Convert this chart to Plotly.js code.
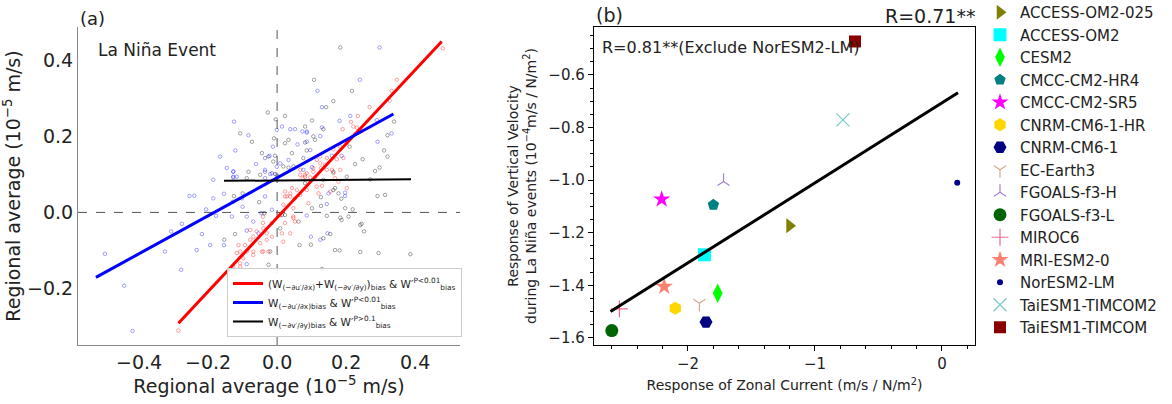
<!DOCTYPE html>
<html>
<head>
<meta charset="utf-8">
<script src="https://cdn.plot.ly/plotly-3.0.1.min.js"></script>
<style>html,body{margin:0;padding:0;background:#fff;}#chart{width:1172px;height:404px;}</style>
</head>
<body>
<div id="chart"></div>
<script>
// ---------- Panel (a) data ----------
const redX = [0.480,0.347,0.332,0.326,0.268,0.214,0.190,0.231,0.245,0.226,0.202,0.183,0.163,0.192,0.173,0.144,0.139,0.125,0.183,0.159,0.144,0.127,0.105,0.086,0.081,0.096,0.110,0.163,0.168,0.074,0.115,0.130,
0.234,0.221,0.115,0.125,0.105,0.067,0.081,0.043,0.057,0.023,0.038,0.202,0.154,0.178,0.086,
0.023,0.038,0.052,0.067,0.018,0.047,0.009,0.023,0.047,0.038,-0.015,-0.040,-0.030,-0.059,-0.069,-0.078,-0.030,-0.049,-0.093,-0.107,-0.117,-0.088,-0.069,-0.040,-0.025,-0.098,-0.127,-0.107,-0.122,-0.286,0.014,0.018,
-0.112,-0.041,-0.041,-0.015,-0.044,-0.069,-0.107,-0.078,0.028,0.091,0.120,0.047,0.052,0.067];
const redY = [0.432,0.349,0.320,0.294,0.277,0.238,0.219,0.223,0.214,0.206,0.182,0.173,0.166,0.143,0.140,0.143,0.125,0.129,0.112,0.112,0.112,0.116,0.107,0.103,0.094,0.092,0.092,0.103,0.090,0.090,0.068,0.070,
0.254,0.226,0.138,0.147,0.116,0.112,0.099,0.064,0.059,0.055,0.042,0.064,0.055,0.081,0.059,
0.042,0.050,0.037,0.046,0.020,0.011,-0.007,-0.028,-0.015,-0.055,-0.028,-0.042,-0.055,-0.050,-0.064,-0.046,-0.072,-0.081,-0.086,-0.103,-0.107,-0.103,-0.103,-0.103,-0.103,-0.121,-0.143,-0.143,-0.164,-0.311,-0.055,-0.077,
-0.086,-0.011,-0.028,-0.064,-0.103,-0.112,-0.134,-0.072,0.042,0.024,0.050,-0.011,-0.024,0.099];

const blueX = [-0.125,-0.083,-0.121,-0.165,-0.146,-0.127,-0.185,-0.127,-0.061,-0.035,-0.022,-0.035,-0.020,-0.012,-0.001,0.014,0.038,0.052,0.059,0.033,0.009,-0.001,0.086,
0.297,0.240,0.117,0.130,0.212,0.181,0.289,0.130,0.086,0.073,0.332,0.125,0.291,0.096,0.187,0.086,0.101,0.076,0.159,
-0.499,-0.443,-0.419,-0.278,-0.325,-0.307,-0.276,-0.254,-0.240,-0.206,-0.185,-0.177,-0.233,-0.194,-0.218,-0.154,-0.154,-0.131,-0.100,-0.088,-0.102,-0.069,-0.088,-0.054,-0.088,-0.046,-0.035,-0.015,-0.035,-0.127,
0.086,0.149,0.197,0.197,0.144,0.098,0.125,0.146,-0.127,-0.117,-0.035,-0.015,-0.001];
const blueY = [0.239,0.203,0.163,0.147,0.117,0.108,0.086,0.092,0.127,0.143,0.149,0.112,0.101,0.173,0.217,0.226,0.219,0.219,0.179,0.138,0.129,0.120,0.210,
0.434,0.349,0.320,0.277,0.254,0.241,0.243,0.224,0.213,0.213,0.208,0.201,0.186,0.164,0.149,0.186,0.119,0.112,0.149,
-0.109,-0.193,-0.312,-0.151,-0.103,-0.050,-0.030,0.043,0.044,0.008,0.037,-0.009,-0.099,-0.086,-0.057,-0.086,0.049,-0.011,0.015,-0.011,0.037,-0.024,-0.048,-0.055,-0.136,-0.002,0.042,0.007,0.090,0.094,
-0.008,0.050,0.052,0.043,0.022,-0.064,-0.072,-0.055,0.107,0.094,0.107,0.103,0.099];

const blackX = [0.183,0.107,0.217,0.163,0.142,0.101,0.081,0.134,0.105,0.339,0.320,0.110,0.081,0.210,0.086,0.310,0.320,0.248,0.226,0.297,0.284,0.163,0.076,0.202,0.168,0.270,
-0.027,-0.004,0.023,-0.107,-0.073,-0.009,0.023,0.033,-0.044,-0.025,-0.006,-0.011,0.043,0.018,0.033,0.047,-0.006,-0.001,
0.163,0.178,0.291,0.313,0.186,0.127,0.127,0.101,0.197,0.219,0.144,0.183,0.187,0.207,0.062,0.245,0.252,0.154,0.134,0.065,0.098,0.181,0.241,0.294,0.386,0.130,0.081,0.134,
-0.122,-0.153,-0.100,-0.125,-0.052,-0.020,-0.025,-0.037,0.009,0.014,0.023,-0.128,-0.088,-0.049,-0.083,0.168,0.241];
const blackY = [0.434,0.349,0.320,0.293,0.277,0.242,0.226,0.219,0.200,0.239,0.203,0.191,0.184,0.173,0.163,0.163,0.147,0.140,0.127,0.118,0.109,0.107,0.143,0.094,0.064,0.087,
0.263,0.245,0.254,0.208,0.186,0.195,0.182,0.191,0.156,0.147,0.149,0.134,0.156,0.121,0.118,0.121,0.101,0.090,
0.059,0.050,0.043,0.046,0.036,0.040,0.017,0.011,0.011,0.008,-0.009,-0.014,-0.020,-0.011,-0.024,-0.030,-0.050,-0.057,-0.068,-0.086,-0.085,-0.100,-0.104,-0.107,-0.110,-0.149,0.077,0.086,
-0.057,-0.072,0.050,0.043,0.027,-0.103,-0.138,-0.002,-0.042,-0.007,-0.007,0.028,0.090,0.099,0.107,-0.099,-0.033];

// fitted regression lines (endpoints)
const redFitX = [-0.286, 0.477], redFitY = [-0.292, 0.450];
const blueFitX = [-0.525, 0.337], blueFitY = [-0.171, 0.259];
const blackFitX = [-0.154, 0.388], blackFitY = [0.083, 0.087];

const legA = [
  "(W<sub>(−∂u′/∂x)</sub>+W<sub>(−∂v′/∂y)</sub>)<sub>bias</sub> &amp; W′<sup>P&lt;0.01</sup><sub>bias</sub>",
  "W<sub>(−∂u′/∂x)</sub><sub>bias</sub> &amp; W′<sup>P&lt;0.01</sup><sub>bias</sub>",
  "W<sub>(−∂v′/∂y)</sub><sub>bias</sub> &amp; W′<sup>P&gt;0.1</sup><sub>bias</sub>"
];

// ---------- Panel (b) data ----------
const models = ["ACCESS-OM2-025","ACCESS-OM2","CESM2","CMCC-CM2-HR4","CMCC-CM2-SR5","CNRM-CM6-1-HR","CNRM-CM6-1","EC-Earth3","FGOALS-f3-H","FGOALS-f3-L","MIROC6","MRI-ESM2-0","NorESM2-LM","TaiESM1-TIMCOM2","TaiESM1-TIMCOM"];
const zonal = [-1.20,-1.87,-1.766,-1.80,-2.207,-2.10,-1.858,-1.91,-1.72,-2.60,-2.54,-2.187,0.12,-0.78,-0.685];
const vertical = [-1.174,-1.284,-1.43,-1.094,-1.073,-1.487,-1.54,-1.468,-1.005,-1.572,-1.49,-1.405,-1.01,-0.771,-0.473];
const fitBX = [-2.61, 0.126], fitBY = [-1.50, -0.668];

const symbols = ["triangle-right","square","diamond-tall","pentagon","star","hexagon","hexagon2","y-down-open","y-up-open","circle","cross-thin-open","star","circle","x-thin-open","square"];
const colors = ["#808000","#00ffff","#00ff00","#008080","#ff00ff","#ffd700","#000080","#d2a890","#a080d0","#006400","#f06a8a","#fa8072","#00008b","#80c8c8","#8b0000"];
const sizes = [13,13,14,12,13,13,13,10,10,13,12,13,6,13,12];

// ---------- layout helpers (pixel -> paper) ----------
const W = 1172, H = 404;
const px = v => v / W, py = v => 1 - v / H;
const FONT = "DejaVu Sans, Liberation Sans, sans-serif";

const traces = [];
const ptMarker = c => ({symbol: "circle-open", size: 3.5, color: c, opacity: 0.4, line: {width: 0.9}});
traces.push({x: redX, y: redY, mode: "markers", type: "scatter", marker: ptMarker("#ff0000"), showlegend: false, xaxis: "x", yaxis: "y", hoverinfo: "skip"});
traces.push({x: blueX, y: blueY, mode: "markers", type: "scatter", marker: ptMarker("#0000ff"), showlegend: false, xaxis: "x", yaxis: "y", hoverinfo: "skip"});
traces.push({x: blackX, y: blackY, mode: "markers", type: "scatter", marker: ptMarker("#000000"), showlegend: false, xaxis: "x", yaxis: "y", hoverinfo: "skip"});
traces.push({x: redFitX, y: redFitY, mode: "lines", line: {color: "#ff0000", width: 3}, name: legA[0], legend: "legend", xaxis: "x", yaxis: "y"});
traces.push({x: blueFitX, y: blueFitY, mode: "lines", line: {color: "#0000ff", width: 3}, name: legA[1], legend: "legend", xaxis: "x", yaxis: "y"});
traces.push({x: blackFitX, y: blackFitY, mode: "lines", line: {color: "#000000", width: 2}, name: legA[2], legend: "legend", xaxis: "x", yaxis: "y"});

models.forEach((m, i) => {
  const open = symbols[i].indexOf("open") >= 0;
  traces.push({
    x: [zonal[i]], y: [vertical[i]], mode: "markers", type: "scatter", name: m, legend: "legend2",
    xaxis: "x2", yaxis: "y2",
    marker: {symbol: symbols[i], size: sizes[i], color: colors[i], line: {width: open ? 1.2 : 0, color: colors[i]}}
  });
});
traces.push({x: fitBX, y: fitBY, mode: "lines", line: {color: "#000", width: 3}, showlegend: false, xaxis: "x2", yaxis: "y2"});

const layout = {
  width: W, height: H,
  margin: {l: 0, r: 0, t: 0, b: 0, autoexpand: false},
  paper_bgcolor: "#fff", plot_bgcolor: "#fff",
  font: {family: FONT, color: "#222"},
  xaxis: {
    domain: [px(78), px(460)], range: [-0.577, 0.53], anchor: "y",
    showgrid: false, zeroline: false, showline: true, linecolor: "#888", linewidth: 1,
    ticks: "", tickmode: "linear", tick0: 0, dtick: 0.2, tickformat: ".1f",
    tickfont: {size: 19, color: "#222"},
    title: {text: "Regional average (10<sup>−5</sup> m/s)", font: {size: 19, color: "#222"}, standoff: 3}
  },
  yaxis: {
    domain: [py(345), py(27)], range: [-0.349, 0.488], anchor: "x",
    showgrid: false, zeroline: false, showline: true, linecolor: "#888", linewidth: 1,
    ticks: "", tickmode: "linear", tick0: 0, dtick: 0.2, tickformat: ".1f",
    tickfont: {size: 19, color: "#222"},
    title: {text: "Regional average (10<sup>−5</sup> m/s)", font: {size: 19, color: "#222"}, standoff: 2}
  },
  xaxis2: {
    domain: [px(594), px(975)], range: [-2.74, 0.26], anchor: "y2",
    showgrid: false, zeroline: false, showline: true, mirror: true, linecolor: "#000", linewidth: 1.2,
    ticks: "outside", ticklen: 5, tickcolor: "#000", tickmode: "linear", tick0: 0, dtick: 1,
    minor: {ticks: "outside", ticklen: 3, dtick: 0.2, tick0: 0, tickcolor: "#000"},
    tickfont: {size: 15, color: "#222"},
    title: {text: "Response of Zonal Current (m/s / N/m<sup>2</sup>)", font: {size: 14, color: "#222"}, standoff: 8}
  },
  yaxis2: {
    domain: [py(345), py(27)], range: [-1.627, -0.418], anchor: "x2",
    showgrid: false, zeroline: false, showline: true, mirror: true, linecolor: "#000", linewidth: 1.2,
    ticks: "outside", ticklen: 5, tickcolor: "#000", tickmode: "linear", tick0: 0, dtick: 0.2, tickformat: ".1f",
    minor: {ticks: "outside", ticklen: 3, dtick: 0.05, tick0: 0, tickcolor: "#000"},
    tickfont: {size: 15, color: "#222"},
    title: {text: "Response of Vertical Velocity<br>during La Niña events (10<sup>−4</sup>m/s / N/m<sup>2</sup>)", font: {size: 14, color: "#222"}, standoff: 8}
  },
  legend: {
    x: px(462), xanchor: "right", y: py(337), yanchor: "bottom",
    bgcolor: "rgba(255,255,255,0.85)", bordercolor: "#ccc", borderwidth: 1,
    font: {size: 10.5, color: "#222"}, itemwidth: 30, tracegroupgap: 0
  },
  legend2: {
    x: px(980), xanchor: "left", y: py(-4), yanchor: "top", maxheight: 1000,
    bgcolor: "rgba(0,0,0,0)", borderwidth: 0,
    font: {size: 15, color: "#222"}, itemwidth: 30, tracegroupgap: 0
  },
  shapes: [
    {type: "line", xref: "x", yref: "y domain", x0: 0, x1: 0, y0: 0, y1: 1, line: {color: "#555", width: 1, dash: "dash"}, layer: "below"},
    {type: "line", xref: "x domain", yref: "y", x0: 0, x1: 1, y0: 0, y1: 0, line: {color: "#555", width: 1, dash: "dash"}, layer: "below"}
  ],
  annotations: [
    {text: "(a)", xref: "paper", yref: "paper", x: px(78), y: py(18), xanchor: "left", yanchor: "middle", showarrow: false, font: {size: 18, color: "#222"}},
    {text: "La Niña Event", xref: "paper", yref: "paper", x: px(96), y: py(50), xanchor: "left", yanchor: "middle", showarrow: false, font: {size: 17, color: "#222"}},
    {text: "(b)", xref: "paper", yref: "paper", x: px(594), y: py(15), xanchor: "left", yanchor: "middle", showarrow: false, font: {size: 19, color: "#222"}},
    {text: "R=0.71**", xref: "paper", yref: "paper", x: px(977), y: py(16), xanchor: "right", yanchor: "middle", showarrow: false, font: {size: 19, color: "#222"}},
    {text: "R=0.81**(Exclude NorESM2-LM)", xref: "paper", yref: "paper", x: px(600), y: py(47), xanchor: "left", yanchor: "middle", showarrow: false, font: {size: 16, color: "#222"}}
  ]
};

Plotly.newPlot("chart", traces, layout, {staticPlot: true, displayModeBar: false});
</script>
</body>
</html>
